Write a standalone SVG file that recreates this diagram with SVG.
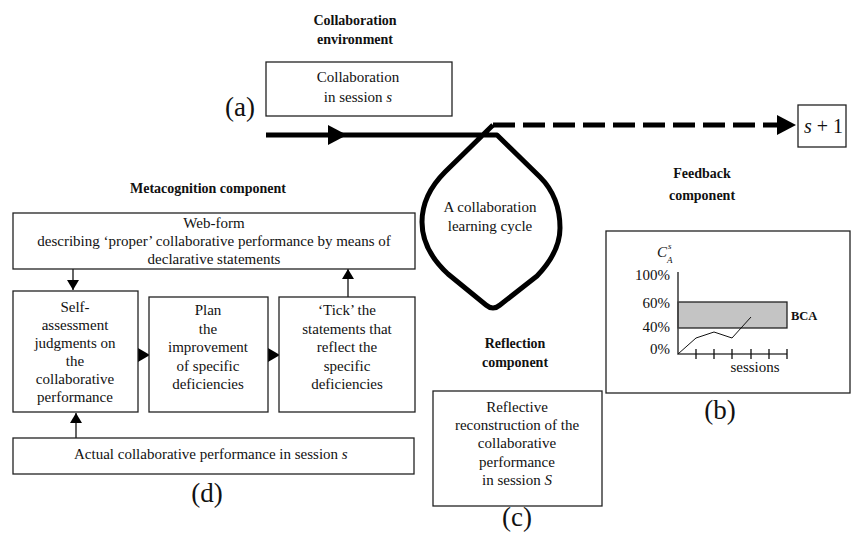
<svg xmlns="http://www.w3.org/2000/svg" width="852" height="537" viewBox="0 0 852 537">
<style>
text{font-family:"Liberation Serif","Times New Roman",serif;fill:#111}
.t{font-size:15px;text-anchor:middle}
.h{font-size:14px;font-weight:bold;text-anchor:middle}
.lab{font-size:27px;text-anchor:middle}
.box{fill:#fff;stroke:#222;stroke-width:1.3}
.thin{stroke:#111;stroke-width:1.3;fill:none}
.thick{stroke:#000;stroke-width:5;fill:none;stroke-linejoin:round}
.ah{fill:#000}
.i{font-style:italic}
</style>
<defs>
<marker id="arr" markerWidth="10" markerHeight="12" refX="10" refY="6" orient="auto" markerUnits="userSpaceOnUse">
<path d="M0,0 L10,6 L0,12 Z" fill="#000"/>
</marker>
</defs>

<g id="connectors">
<path class="thick" d="M266 135 L497 135 L540 177 Q560 197 560 228 Q560 252 537 276 L500 305 Q493 311 486 305 L448 274 Q422 250 422 222 Q422 195 445 172 L493 125"/>
<path class="thick" d="M493 125 L778 125" stroke-dasharray="22 8" stroke-linecap="butt"/>
<polygon class="ah" points="328,125 347,135 328,145"/>
<polygon class="ah" points="777,115 796,125 777,135"/>
<path class="thin" d="M73 269 L73 290" marker-end="url(#arr)"/>
<path class="thin" d="M348 297 L348 269" marker-end="url(#arr)"/>
<path class="thin" d="M76 438 L76 413" marker-end="url(#arr)"/>
<polygon class="ah" points="138,348 150,355 138,362"/>
<polygon class="ah" points="268,348 280,355 268,362"/>
</g>

<g id="env-title">
<text class="h" x="355" y="25">Collaboration</text>
<text class="h" x="355" y="44">environment</text>
</g>

<g id="collab-session">
<rect class="box" x="266" y="62" width="186" height="54"/>
<text class="t" x="358" y="82">Collaboration</text>
<text class="t" x="358" y="102">in  session <tspan class="i">s</tspan></text>
</g>
<text class="lab" x="240" y="116">(a)</text>

<g id="next-session">
<rect class="box" x="798" y="105" width="48" height="42"/>
<text x="804" y="133" style="font-size:20px"><tspan class="i">s</tspan> + 1</text>
</g>

<g id="cycle">
<text class="t" x="490" y="212">A collaboration</text>
<text class="t" x="490" y="231">learning cycle</text>
</g>

<g id="feedback-title">
<text class="h" x="702" y="178">Feedback</text>
<text class="h" x="702" y="200">component</text>
</g>

<g id="meta-title">
<text class="h" x="208" y="193">Metacognition component</text>
</g>

<g id="webform">
<rect class="box" x="13" y="213" width="402" height="56"/>
<text class="t" x="214" y="228">Web-form</text>
<text class="t" x="214" y="246">describing ‘proper’ collaborative performance by means of</text>
<text class="t" x="214" y="264">declarative statements</text>
</g>

<g id="self">
<rect class="box" x="13" y="291" width="125" height="121"/>
<text class="t" x="75" y="312">Self-</text>
<text class="t" x="75" y="330">assessment</text>
<text class="t" x="75" y="348">judgments  on</text>
<text class="t" x="75" y="366">the</text>
<text class="t" x="75" y="384">collaborative</text>
<text class="t" x="75" y="402">performance</text>
</g>

<g id="plan">
<rect class="box" x="149" y="297" width="119" height="115"/>
<text class="t" x="208" y="315">Plan</text>
<text class="t" x="208" y="334">the</text>
<text class="t" x="208" y="352">improvement</text>
<text class="t" x="208" y="371">of  specific</text>
<text class="t" x="208" y="389">deficiencies</text>
</g>

<g id="tick">
<rect class="box" x="279" y="297" width="136" height="115"/>
<text class="t" x="347" y="315">‘Tick’ the</text>
<text class="t" x="347" y="334">statements that</text>
<text class="t" x="347" y="352">reflect the</text>
<text class="t" x="347" y="371">specific</text>
<text class="t" x="347" y="389">deficiencies</text>
</g>

<g id="actual">
<rect class="box" x="13" y="438" width="401" height="36"/>
<text x="74" y="459" style="font-size:15px">Actual collaborative performance in session  <tspan class="i">s</tspan></text>
</g>
<text class="lab" x="207" y="502">(d)</text>

<g id="reflection-title">
<text class="h" x="515" y="348">Reflection</text>
<text class="h" x="515" y="367">component</text>
</g>

<g id="reflective">
<rect class="box" x="433" y="391" width="169" height="115"/>
<text class="t" x="517" y="412">Reflective</text>
<text class="t" x="517" y="430">reconstruction  of the</text>
<text class="t" x="517" y="448">collaborative</text>
<text class="t" x="517" y="467">performance</text>
<text class="t" x="517" y="485">in session <tspan class="i">S</tspan></text>
</g>
<text class="lab" x="517" y="526">(c)</text>

<g id="feedback-chart">
<rect class="box" x="606" y="231" width="244" height="162"/>
<rect x="678" y="302" width="109" height="26" fill="#c4c4c4" stroke="#222" stroke-width="1.3"/>
<path d="M678 272 L678 354 L787 354" stroke="#444" stroke-width="1.6" fill="none"/>
<path d="M696 349 V359 M714 349 V359 M732 349 V359 M751 349 V359 M769 349 V359 M787 349 V359" stroke="#111" stroke-width="1.3"/>
<polyline points="678,354 696,338 714,332 732,338 751,317" fill="none" stroke="#111" stroke-width="1"/>
<text x="657" y="257" class="i" style="font-size:15px">C</text>
<text x="668" y="249" class="i" style="font-size:9px">s</text>
<text x="667" y="263" class="i" style="font-size:9px">A</text>
<text x="670" y="280" style="font-size:15px;text-anchor:end">100%</text>
<text x="670" y="308" style="font-size:15px;text-anchor:end">60%</text>
<text x="670" y="332" style="font-size:15px;text-anchor:end">40%</text>
<text x="670" y="354" style="font-size:15px;text-anchor:end">0%</text>
<text x="791" y="320" style="font-size:12.5px;font-weight:bold">BCA</text>
<text x="755" y="372" style="font-size:15px;text-anchor:middle">sessions</text>
</g>
<text class="lab" x="720" y="419">(b)</text>
</svg>
